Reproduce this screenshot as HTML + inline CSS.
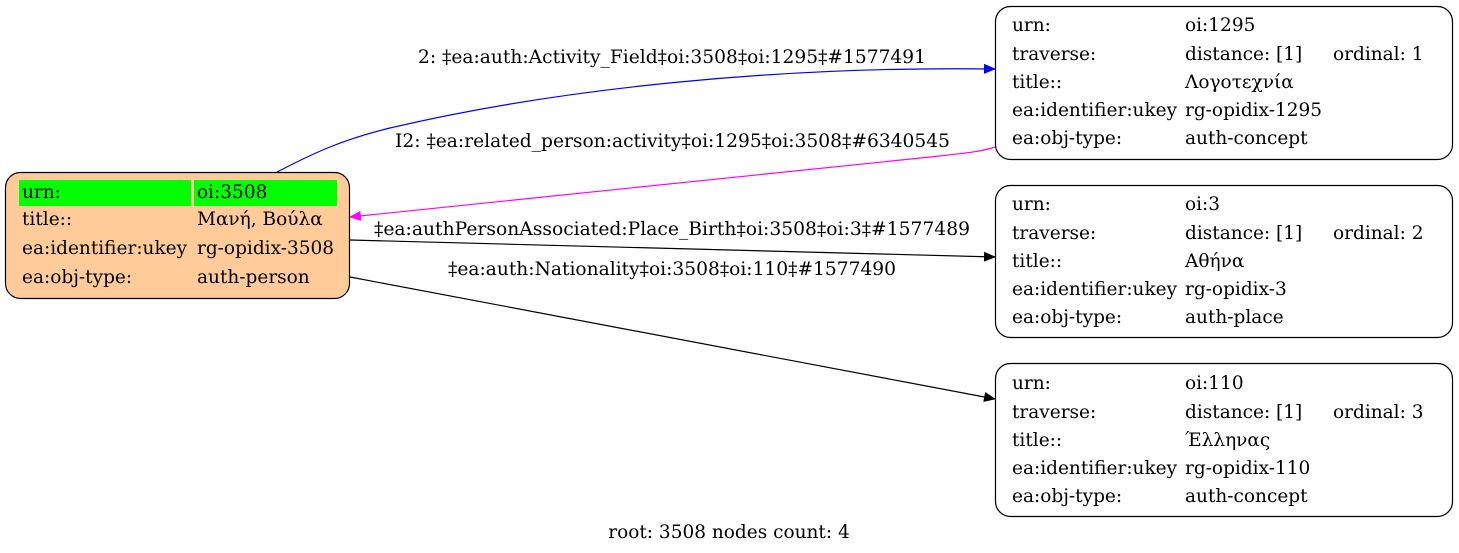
<!DOCTYPE html>
<html><head><meta charset="utf-8"><style>
html,body{margin:0;padding:0;background:#fff;}
svg{display:block;}
text{font-family:"DejaVu Serif","Liberation Serif",serif;font-size:18.5px;fill:#000;}
</style></head><body>
<svg width="1459" height="553" viewBox="0 0 1459 553" xmlns="http://www.w3.org/2000/svg">
<defs>
<marker id="ab" markerWidth="12" markerHeight="10" refX="11" refY="5" orient="auto" markerUnits="userSpaceOnUse"><path d="M0,0 L12,5 L0,10 z" fill="#0000ff"/></marker>
<marker id="am" markerWidth="12" markerHeight="10" refX="11" refY="5" orient="auto" markerUnits="userSpaceOnUse"><path d="M0,0 L12,5 L0,10 z" fill="#ff00ff"/></marker>
<marker id="ak" markerWidth="12" markerHeight="10" refX="11" refY="5" orient="auto" markerUnits="userSpaceOnUse"><path d="M0,0 L12,5 L0,10 z" fill="#000"/></marker>
</defs>
<path d="M277,172 C310,155 340,140 390,128 C560,88 780,66 995,69" fill="none" stroke="#0000ff" stroke-width="1.2" marker-end="url(#ab)"/>
<path d="M995,147 C980,152 965,153 940,156 L350,217" fill="none" stroke="#ff00ff" stroke-width="1.2" marker-end="url(#am)"/>
<path d="M350,240 L995,257" fill="none" stroke="#000" stroke-width="1.2" marker-end="url(#ak)"/>
<path d="M350,277 L995,399" fill="none" stroke="#000" stroke-width="1.2" marker-end="url(#ak)"/>
<text x="418" y="63" textLength="508" lengthAdjust="spacingAndGlyphs">2: ‡ea:auth:Activity_Field‡oi:3508‡oi:1295‡#1577491</text>
<text x="395" y="147" textLength="555" lengthAdjust="spacingAndGlyphs">I2: ‡ea:related_person:activity‡oi:1295‡oi:3508‡#6340545</text>
<text x="374" y="235" textLength="596" lengthAdjust="spacingAndGlyphs">‡ea:authPersonAssociated:Place_Birth‡oi:3508‡oi:3‡#1577489</text>
<text x="448" y="275" textLength="448" lengthAdjust="spacingAndGlyphs">‡ea:auth:Nationality‡oi:3508‡oi:110‡#1577490</text>
<rect x="5.5" y="172.5" width="344" height="126" rx="15" fill="#ffcc99" stroke="#000" stroke-width="1.2"/>
<rect x="19" y="180" width="172" height="26" fill="#00ff00"/>
<rect x="194" y="180" width="143" height="26" fill="#00ff00"/>
<text x="22" y="198">urn:</text><text x="197" y="198">oi:3508</text>
<text x="22" y="225">title::</text><text x="197" y="225">Μανή, Βούλα</text>
<text x="22" y="254">ea:identifier:ukey</text><text x="197" y="254">rg-opidix-3508</text>
<text x="22" y="283">ea:obj-type:</text><text x="197" y="283">auth-person</text>

<rect x="995.5" y="6.5" width="457" height="153" rx="15" fill="#fff" stroke="#000" stroke-width="1.2"/>
<text x="1012" y="31">urn:</text><text x="1185" y="31">oi:1295</text>
<text x="1012" y="60">traverse:</text><text x="1185" y="60">distance: [1]</text><text x="1333" y="60">ordinal: 1</text>
<text x="1012" y="88">title::</text><text x="1185" y="88">Λογοτεχνία</text>
<text x="1012" y="116">ea:identifier:ukey</text><text x="1185" y="116">rg-opidix-1295</text>
<text x="1012" y="144">ea:obj-type:</text><text x="1185" y="144">auth-concept</text>

<rect x="995.5" y="185.5" width="457" height="152" rx="15" fill="#fff" stroke="#000" stroke-width="1.2"/>
<text x="1012" y="210">urn:</text><text x="1185" y="210">oi:3</text>
<text x="1012" y="239">traverse:</text><text x="1185" y="239">distance: [1]</text><text x="1333" y="239">ordinal: 2</text>
<text x="1012" y="267">title::</text><text x="1185" y="267">Αθήνα</text>
<text x="1012" y="295">ea:identifier:ukey</text><text x="1185" y="295">rg-opidix-3</text>
<text x="1012" y="323">ea:obj-type:</text><text x="1185" y="323">auth-place</text>

<rect x="995.5" y="363.5" width="457" height="153" rx="15" fill="#fff" stroke="#000" stroke-width="1.2"/>
<text x="1012" y="389">urn:</text><text x="1185" y="389">oi:110</text>
<text x="1012" y="418">traverse:</text><text x="1185" y="418">distance: [1]</text><text x="1333" y="418">ordinal: 3</text>
<text x="1012" y="446">title::</text><text x="1185" y="446">Έλληνας</text>
<text x="1012" y="474">ea:identifier:ukey</text><text x="1185" y="474">rg-opidix-110</text>
<text x="1012" y="502">ea:obj-type:</text><text x="1185" y="502">auth-concept</text>

<text x="729" y="538" text-anchor="middle">root: 3508 nodes count: 4</text>
</svg>
</body></html>
